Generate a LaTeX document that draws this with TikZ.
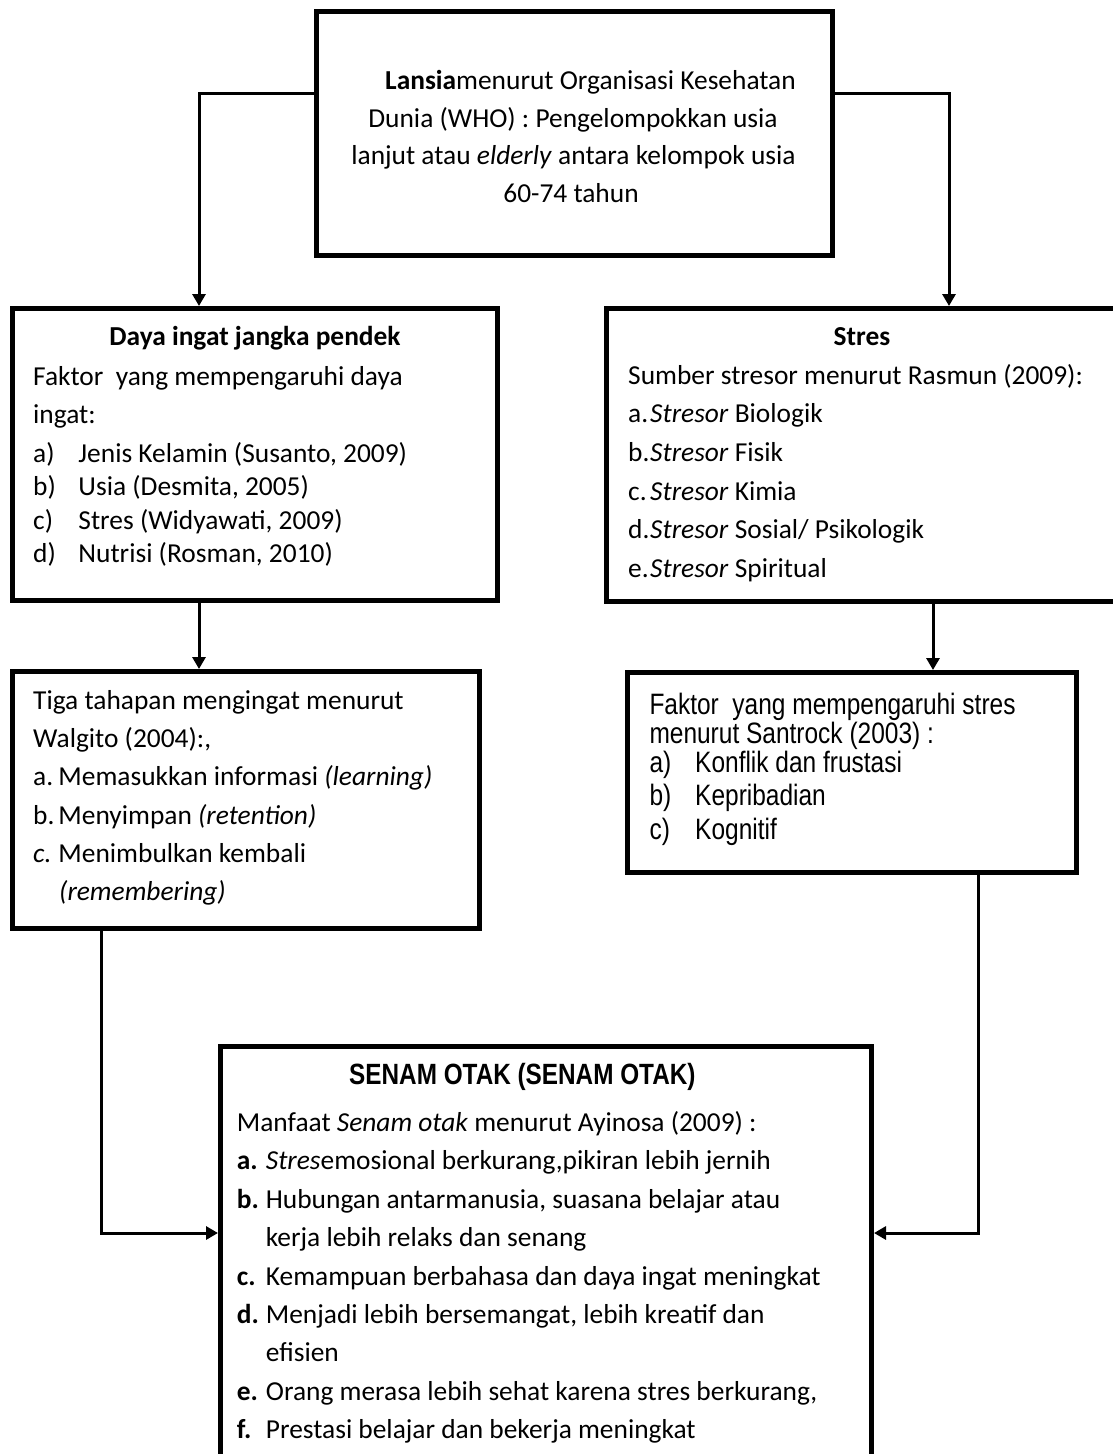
\documentclass[tikz,border=0pt]{standalone}
\usepackage{fontspec}
\setmainfont{Carlito}
\newfontfamily\narrowfont[FakeStretch=0.83]{Liberation Sans}
\usetikzlibrary{arrows.meta}
\newcommand{\fsCal}{\fontsize{27.4}{33}\selectfont}
\newcommand{\fsNar}{\narrowfont\fontsize{29.5}{30}\selectfont}
\newcommand{\fsNarB}{\narrowfont\bfseries\fontsize{29.3}{30}\selectfont}
\tikzset{
  box/.style={draw=black, line width=5pt, rectangle, inner sep=0pt},
  conn/.style={draw=black, line width=3pt, -{Triangle[length=12pt,width=13pt]}},
  txt/.style={anchor=base west, inner sep=0pt, font=\fsCal},
  ctxt/.style={anchor=base, inner sep=0pt, font=\fsCal},
  ntxt/.style={anchor=base west, inner sep=0pt, font=\fsNar},
  nbtxt/.style={anchor=base west, inner sep=0pt, font=\fsNarB},
}
\begin{document}
\begin{tikzpicture}[x=1pt,y=-1pt]
\useasboundingbox (0,0) rectangle (1112,1454);
% boxes
\node[box, minimum width=516pt, minimum height=244pt] (top) at (574,133) {};
\node[box, minimum width=484.5pt, minimum height=291.5pt] (box1) at (254.75,454.25) {};
\node[box, minimum width=511.5pt, minimum height=292.5pt] (box2) at (862.25,454.75) {};
\node[box, minimum width=467pt, minimum height=257pt] (box3) at (246,800) {};
\node[box, minimum width=448.5pt, minimum height=200pt] (box4) at (851.75,772.5) {};
\node[box, minimum width=651pt, minimum height=423.5pt] (box5) at (546,1258.25) {};
% connectors
\draw[conn] ([yshift=-84.5pt]top.north west) -| ([xshift=189pt]box1.north west);
\draw[conn] ([yshift=-84.5pt]top.north east) -| ([xshift=345pt]box2.north west);
\draw[conn] ([xshift=189pt]box1.south west) -- ([xshift=189pt]box3.north west);
\draw[conn] ([xshift=329pt]box2.south west) -- ([xshift=308pt]box4.north west);
\draw[conn] ([xshift=91.7pt]box3.south west) |- ([yshift=-189pt]box5.north west);
\draw[conn] ([xshift=353pt]box4.south west) |- ([yshift=-189pt]box5.north east);
% top box text
\node[txt] (l1) at (385,89) {\textbf{Lansia}menurut Organisasi Kesehatan};
\node[ctxt] (l2) at (573,127) {Dunia (WHO) : Pengelompokkan usia};
\node[ctxt] (l3) at (573.5,164.5) {lanjut atau \textit{elderly} antara kelompok usia};
\node[ctxt] (l4) at (571,202) {60-74 tahun};
% box1 text
\node[ctxt] (d0) at (255,345) {\textbf{Daya ingat jangka pendek}};
\node[txt] (d1) at (33,385) {Faktor\ \ yang mempengaruhi daya};
\node[txt] (d2) at (33,423) {ingat:};
\node[txt] (d3) at (33,462) {\makebox[45.3pt][l]{a)}Jenis Kelamin (Susanto, 2009)};
\node[txt] (d4) at (33,495.5) {\makebox[45.3pt][l]{b)}Usia (Desmita, 2005)};
\node[txt] (d5) at (33,529) {\makebox[45.3pt][l]{c)}Stres (Widyawati, 2009)};
\node[txt] (d6) at (33,562.5) {\makebox[45.3pt][l]{d)}Nutrisi (Rosman, 2010)};
% box2 text
\node[ctxt] (s0) at (862,345.5) {\textbf{Stres}};
\node[txt] (s1) at (628,384) {Sumber stresor menurut Rasmun (2009):};
\node[txt] (s2) at (628,422.7) {\makebox[22pt][l]{a.}\textit{Stresor} Biologik};
\node[txt] (s3) at (628,461.7) {\makebox[22pt][l]{b.}\textit{Stresor} Fisik};
\node[txt] (s4) at (628,500) {\makebox[22pt][l]{c.}\textit{Stresor} Kimia};
\node[txt] (s5) at (628,538.5) {\makebox[22pt][l]{d.}\textit{Stresor} Sosial/ Psikologik};
\node[txt] (s6) at (628,577) {\makebox[22pt][l]{e.}\textit{Stresor} Spiritual};
% box3 text
\node[txt] (t1) at (33,709.3) {Tiga tahapan mengingat menurut};
\node[txt] (t2) at (33,747.5) {Walgito (2004):,};
\node[txt] (t3) at (33,785.8) {\makebox[25.3pt][l]{a.}Memasukkan informasi \textit{(learning)}};
\node[txt] (t4) at (33,824) {\makebox[25.3pt][l]{b.}Menyimpan \textit{(retention)}};
\node[txt] (t5) at (33,862) {\makebox[25.3pt][l]{\textit{c.}}Menimbulkan kembali};
\node[txt] (t6) at (59,900.5) {\textit{(remembering)}};
% box4 text
\node[ntxt] (f1) at (649.3,714.5) {Faktor\ \ yang mempengaruhi stres};
\node[ntxt] (f2) at (649.3,743.5) {menurut Santrock (2003) :};
\node[ntxt] (f3) at (649.3,772) {\makebox[45.7pt][l]{a)}Konflik dan frustasi};
\node[ntxt] (f4) at (649.3,805.5) {\makebox[45.7pt][l]{b)}Kepribadian};
\node[ntxt] (f5) at (649.3,839) {\makebox[45.7pt][l]{c)}Kognitif};
% box5 text
\node[nbtxt] (m0) at (349,1084.3) {SENAM OTAK (SENAM OTAK)};
\node[txt] (m1) at (236.7,1131.5) {Manfaat \textit{Senam otak} menurut Ayinosa (2009) :};
\node[txt] (m2) at (236.7,1169.9) {\makebox[29pt][l]{\textbf{a.}}\textit{Stres}emosional berkurang,pikiran lebih jernih};
\node[txt] (m3) at (236.7,1208.3) {\makebox[29pt][l]{\textbf{b.}}Hubungan antarmanusia, suasana belajar atau};
\node[txt] (m4) at (265.7,1246.7) {kerja lebih relaks dan senang};
\node[txt] (m5) at (236.7,1285.1) {\makebox[29pt][l]{\textbf{c.}}Kemampuan berbahasa dan daya ingat meningkat};
\node[txt] (m6) at (236.7,1323.5) {\makebox[29pt][l]{\textbf{d.}}Menjadi lebih bersemangat, lebih kreatif dan};
\node[txt] (m7) at (265.7,1361.9) {efisien};
\node[txt] (m8) at (236.7,1400.3) {\makebox[29pt][l]{\textbf{e.}}Orang merasa lebih sehat karena stres berkurang,};
\node[txt] (m9) at (236.7,1438.7) {\makebox[29pt][l]{\textbf{f.}}Prestasi belajar dan bekerja meningkat};
\end{tikzpicture}
\end{document}
